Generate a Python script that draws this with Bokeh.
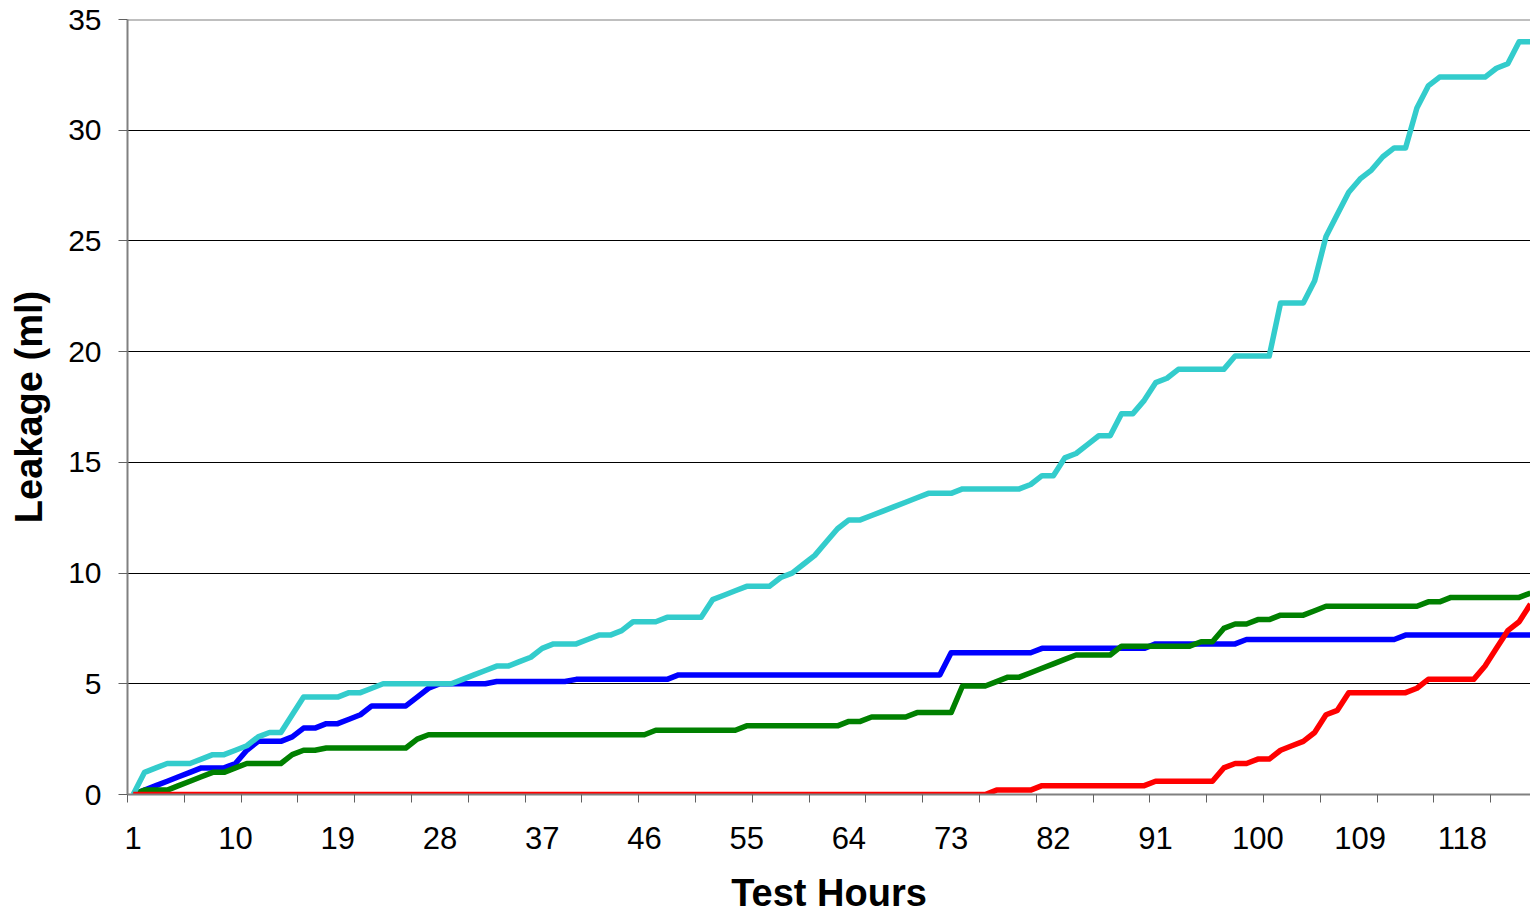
from bokeh.plotting import figure
from bokeh.models import Range1d, FixedTicker, Span
from bokeh.embed import file_html
from bokeh.resources import INLINE

# ---------------- data ----------------
hours = list(range(1, 125))

x_tick_labels = [1, 10, 19, 28, 37, 46, 55, 64, 73, 82, 91, 100, 109, 118]
x_minor_ticks = [0.5, 5.5, 10.5, 15.5, 20.5, 25.5, 30.5, 35.5, 40.5, 45.5,
                 50.5, 55.5, 60.5, 65.5, 70.5, 75.5, 80.5, 85.5, 90.5, 95.5,
                 100.5, 105.5, 110.5, 115.5, 120.5]
y_ticks = [0, 5, 10, 15, 20, 25, 30, 35]

blue = [0.0, 0.2, 0.4, 0.6, 0.8, 1.0, 1.2, 1.2, 1.2, 1.4,
        2.0, 2.4, 2.4, 2.4, 2.6, 3.0, 3.0, 3.2, 3.2, 3.4,
        3.6, 4.0, 4.0, 4.0, 4.0, 4.4, 4.8, 5.0, 5.0, 5.0,
        5.0, 5.0, 5.1, 5.1, 5.1, 5.1, 5.1, 5.1, 5.1, 5.2,
        5.2, 5.2, 5.2, 5.2, 5.2, 5.2, 5.2, 5.2, 5.4, 5.4,
        5.4, 5.4, 5.4, 5.4, 5.4, 5.4, 5.4, 5.4, 5.4, 5.4,
        5.4, 5.4, 5.4, 5.4, 5.4, 5.4, 5.4, 5.4, 5.4, 5.4,
        5.4, 5.4, 6.4, 6.4, 6.4, 6.4, 6.4, 6.4, 6.4, 6.4,
        6.6, 6.6, 6.6, 6.6, 6.6, 6.6, 6.6, 6.6, 6.6, 6.6,
        6.8, 6.8, 6.8, 6.8, 6.8, 6.8, 6.8, 6.8, 7.0, 7.0,
        7.0, 7.0, 7.0, 7.0, 7.0, 7.0, 7.0, 7.0, 7.0, 7.0,
        7.0, 7.0, 7.2, 7.2, 7.2, 7.2, 7.2, 7.2, 7.2, 7.2,
        7.2, 7.2, 7.2, 7.2]

green = [0.0, 0.2, 0.2, 0.2, 0.4, 0.6, 0.8, 1.0, 1.0, 1.2,
         1.4, 1.4, 1.4, 1.4, 1.8, 2.0, 2.0, 2.1, 2.1, 2.1,
         2.1, 2.1, 2.1, 2.1, 2.1, 2.5, 2.7, 2.7, 2.7, 2.7,
         2.7, 2.7, 2.7, 2.7, 2.7, 2.7, 2.7, 2.7, 2.7, 2.7,
         2.7, 2.7, 2.7, 2.7, 2.7, 2.7, 2.9, 2.9, 2.9, 2.9,
         2.9, 2.9, 2.9, 2.9, 3.1, 3.1, 3.1, 3.1, 3.1, 3.1,
         3.1, 3.1, 3.1, 3.3, 3.3, 3.5, 3.5, 3.5, 3.5, 3.7,
         3.7, 3.7, 3.7, 4.9, 4.9, 4.9, 5.1, 5.3, 5.3, 5.5,
         5.7, 5.9, 6.1, 6.3, 6.3, 6.3, 6.3, 6.7, 6.7, 6.7,
         6.7, 6.7, 6.7, 6.7, 6.9, 6.9, 7.5, 7.7, 7.7, 7.9,
         7.9, 8.1, 8.1, 8.1, 8.3, 8.5, 8.5, 8.5, 8.5, 8.5,
         8.5, 8.5, 8.5, 8.5, 8.7, 8.7, 8.9, 8.9, 8.9, 8.9,
         8.9, 8.9, 8.9, 9.1]

cyan = [0.0, 1.0, 1.2, 1.4, 1.4, 1.4, 1.6, 1.8, 1.8, 2.0,
        2.2, 2.6, 2.8, 2.8, 3.6, 4.4, 4.4, 4.4, 4.4, 4.6,
        4.6, 4.8, 5.0, 5.0, 5.0, 5.0, 5.0, 5.0, 5.0, 5.2,
        5.4, 5.6, 5.8, 5.8, 6.0, 6.2, 6.6, 6.8, 6.8, 6.8,
        7.0, 7.2, 7.2, 7.4, 7.8, 7.8, 7.8, 8.0, 8.0, 8.0,
        8.0, 8.8, 9.0, 9.2, 9.4, 9.4, 9.4, 9.8, 10.0, 10.4,
        10.8, 11.4, 12.0, 12.4, 12.4, 12.6, 12.8, 13.0, 13.2, 13.4,
        13.6, 13.6, 13.6, 13.8, 13.8, 13.8, 13.8, 13.8, 13.8, 14.0,
        14.4, 14.4, 15.2, 15.4, 15.8, 16.2, 16.2, 17.2, 17.2, 17.8,
        18.6, 18.8, 19.2, 19.2, 19.2, 19.2, 19.2, 19.8, 19.8, 19.8,
        19.8, 22.2, 22.2, 22.2, 23.2, 25.2, 26.2, 27.2, 27.8, 28.2,
        28.8, 29.2, 29.2, 31.0, 32.0, 32.4, 32.4, 32.4, 32.4, 32.4,
        32.8, 33.0, 34.0, 34.0]

red = [0.0, 0.0, 0.0, 0.0, 0.0, 0.0, 0.0, 0.0, 0.0, 0.0,
       0.0, 0.0, 0.0, 0.0, 0.0, 0.0, 0.0, 0.0, 0.0, 0.0,
       0.0, 0.0, 0.0, 0.0, 0.0, 0.0, 0.0, 0.0, 0.0, 0.0,
       0.0, 0.0, 0.0, 0.0, 0.0, 0.0, 0.0, 0.0, 0.0, 0.0,
       0.0, 0.0, 0.0, 0.0, 0.0, 0.0, 0.0, 0.0, 0.0, 0.0,
       0.0, 0.0, 0.0, 0.0, 0.0, 0.0, 0.0, 0.0, 0.0, 0.0,
       0.0, 0.0, 0.0, 0.0, 0.0, 0.0, 0.0, 0.0, 0.0, 0.0,
       0.0, 0.0, 0.0, 0.0, 0.0, 0.0, 0.2, 0.2, 0.2, 0.2,
       0.4, 0.4, 0.4, 0.4, 0.4, 0.4, 0.4, 0.4, 0.4, 0.4,
       0.6, 0.6, 0.6, 0.6, 0.6, 0.6, 1.2, 1.4, 1.4, 1.6,
       1.6, 2.0, 2.2, 2.4, 2.8, 3.6, 3.8, 4.6, 4.6, 4.6,
       4.6, 4.6, 4.6, 4.8, 5.2, 5.2, 5.2, 5.2, 5.2, 5.8,
       6.6, 7.4, 7.8, 8.6]

x_title = "Test Hours"
y_title = "Leakage (ml)"

# ---------------- figure ----------------
FONT = "Liberation Sans"

p = figure(width=1530, height=916,
           x_range=Range1d(0.5, 124.0), y_range=Range1d(0, 35),
           output_backend="svg", toolbar_location=None,
           min_border_left=127, min_border_right=0,
           min_border_top=19, min_border_bottom=121,
           background_fill_color="white", border_fill_color="white",
           outline_line_color=None)

# x axis
p.xaxis.ticker = FixedTicker(ticks=x_tick_labels, minor_ticks=x_minor_ticks)
p.xaxis.major_tick_line_color = None
p.xaxis.major_tick_out = 8
p.xaxis.major_tick_in = 0
p.xaxis.minor_tick_line_color = "#606060"
p.xaxis.minor_tick_line_width = 1
p.xaxis.minor_tick_out = 8
p.xaxis.minor_tick_in = 0
p.xaxis.axis_line_color = "#808080"
p.xaxis.axis_line_width = 2
p.xaxis.major_label_text_font = FONT
p.xaxis.major_label_text_font_size = "31px"
p.xaxis.major_label_text_color = "black"
p.xaxis.major_label_standoff = 24
p.xaxis.axis_label = x_title
p.xaxis.axis_label_text_font = FONT
p.xaxis.axis_label_text_font_style = "bold"
p.xaxis.axis_label_text_font_size = "38px"
p.xaxis.axis_label_text_color = "black"
p.xaxis.axis_label_standoff = 20

# y axis
p.yaxis.ticker = FixedTicker(ticks=y_ticks, minor_ticks=[])
p.yaxis.major_tick_line_color = "#606060"
p.yaxis.major_tick_out = 9
p.yaxis.major_tick_in = 0
p.yaxis.minor_tick_line_color = None
p.yaxis.axis_line_color = "#808080"
p.yaxis.axis_line_width = 2
p.yaxis.major_label_text_font = FONT
p.yaxis.major_label_text_font_size = "30px"
p.yaxis.major_label_text_color = "black"
p.yaxis.major_label_standoff = 17
p.yaxis.axis_label = y_title
p.yaxis.axis_label_text_font = FONT
p.yaxis.axis_label_text_font_style = "bold"
p.yaxis.axis_label_text_font_size = "38px"
p.yaxis.axis_label_text_color = "black"
p.yaxis.axis_label_standoff = 15

# grid
p.xgrid.grid_line_color = None
p.ygrid.grid_line_color = "black"
p.ygrid.grid_line_width = 1

# top border of plot area
p.add_layout(Span(location=35, dimension="width", line_color="#808080", line_width=2))

# series
p.line(hours, blue, line_color="#0000FF", line_width=5.5, line_join="round")
p.line(hours, green, line_color="#008000", line_width=5.5, line_join="round")
p.line(hours, cyan, line_color="#33CCCC", line_width=5.5, line_join="round")
p.line(hours, red, line_color="#FF0000", line_width=5.5, line_join="round")

open("out.html", "w").write(file_html(p, INLINE))
